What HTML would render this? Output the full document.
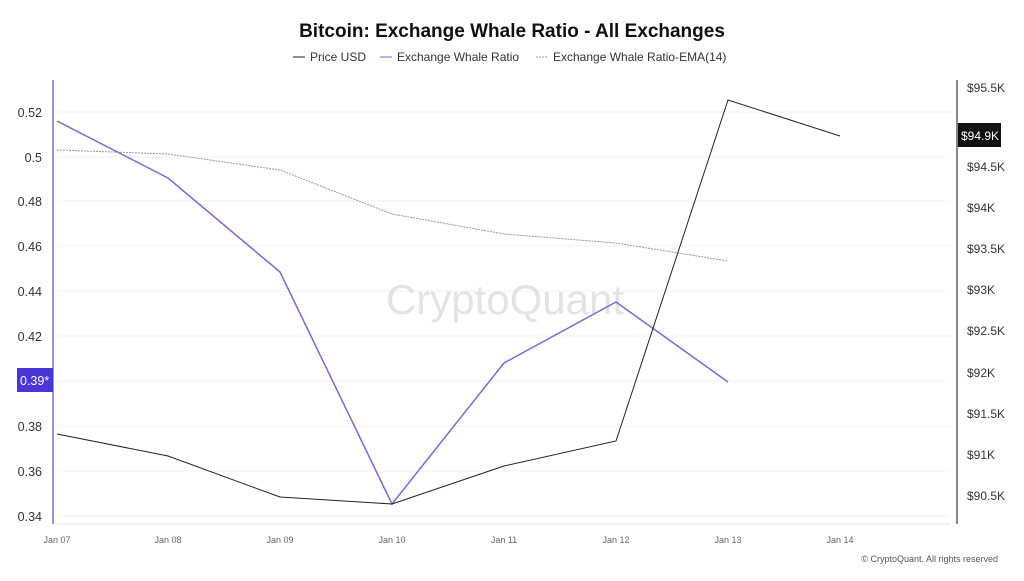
<!DOCTYPE html>
<html><head><style>
body{margin:0;background:#fff;}
svg text{font-family:"Liberation Sans",sans-serif;}
</style></head><body>
<svg width="1024" height="576" xmlns="http://www.w3.org/2000/svg">
<rect width="1024" height="576" fill="#fff"/>
<text x="512" y="37" text-anchor="middle" font-size="19" font-weight="bold" fill="#111">Bitcoin: Exchange Whale Ratio - All Exchanges</text>
<g font-size="12" fill="#333">
<line x1="293" y1="57" x2="305" y2="57" stroke="#222"/><text x="310" y="61">Price USD</text>
<line x1="380" y1="57" x2="392" y2="57" stroke="#7b68d9"/><text x="397" y="61">Exchange Whale Ratio</text>
<line x1="536" y1="57" x2="548" y2="57" stroke="#999" stroke-dasharray="2,1"/><text x="553" y="61">Exchange Whale Ratio-EMA(14)</text>
</g>
<g stroke="#f0f0f0">
<line x1="57" y1="112" x2="950" y2="112"/><line x1="57" y1="157" x2="950" y2="157"/><line x1="57" y1="201" x2="950" y2="201"/><line x1="57" y1="246" x2="950" y2="246"/><line x1="57" y1="291" x2="950" y2="291"/><line x1="57" y1="336" x2="950" y2="336"/><line x1="57" y1="381" x2="950" y2="381"/><line x1="57" y1="426" x2="950" y2="426"/><line x1="57" y1="471" x2="950" y2="471"/><line x1="57" y1="516" x2="950" y2="516"/>
</g>
<line x1="57" y1="524" x2="950" y2="524" stroke="#e6e6ee"/>
<text x="505" y="314" text-anchor="middle" font-size="42" fill="#ddd" opacity="0.8">CryptoQuant</text>
<line x1="53" y1="80" x2="53" y2="524" stroke="#7b68d9" stroke-width="1.5"/>
<line x1="957" y1="80" x2="957" y2="524" stroke="#111" stroke-width="1"/>
<g font-size="12.5" fill="#333" text-anchor="end">
<text x="42" y="117">0.52</text><text x="42" y="162">0.5</text><text x="42" y="206">0.48</text><text x="42" y="251">0.46</text><text x="42" y="296">0.44</text><text x="42" y="341">0.42</text><text x="42" y="431">0.38</text><text x="42" y="476">0.36</text><text x="42" y="521">0.34</text>
</g>
<rect x="17" y="368" width="36" height="24" fill="#4a35d8"/>
<text x="20" y="385" font-size="12.5" fill="#fff">0.39*</text>
<g font-size="12" fill="#333">
<text x="967" y="92">$95.5K</text><text x="967" y="171">$94.5K</text><text x="967" y="212">$94K</text><text x="967" y="253">$93.5K</text><text x="967" y="294">$93K</text><text x="967" y="335">$92.5K</text><text x="967" y="377">$92K</text><text x="967" y="418">$91.5K</text><text x="967" y="459">$91K</text><text x="967" y="500">$90.5K</text>
</g>
<rect x="958" y="123" width="43" height="24" fill="#111"/>
<text x="961" y="140" font-size="12" fill="#fff">$94.9K</text>
<g font-size="9" fill="#666" text-anchor="middle">
<text x="57" y="543">Jan 07</text><text x="168" y="543">Jan 08</text><text x="280" y="543">Jan 09</text><text x="392" y="543">Jan 10</text><text x="504" y="543">Jan 11</text><text x="616" y="543">Jan 12</text><text x="728" y="543">Jan 13</text><text x="840" y="543">Jan 14</text>
</g>
<polyline fill="none" stroke="#999" stroke-width="1" stroke-dasharray="2,1" points="57,150 168,154 280,170 392,214 504,234 616,243 728,261"/>
<polyline fill="none" stroke="#7b68d9" stroke-width="1.5" points="57,121 168,178 280,272 392,504 504,363 616,302 728,382"/>
<polyline fill="none" stroke="#222" stroke-width="1" points="57,434 168,456 280,497 392,504 504,466 616,441 728,100 840,136"/>
<text x="998" y="562" text-anchor="end" font-size="9" fill="#555">© CryptoQuant. All rights reserved</text>
</svg>
</body></html>
